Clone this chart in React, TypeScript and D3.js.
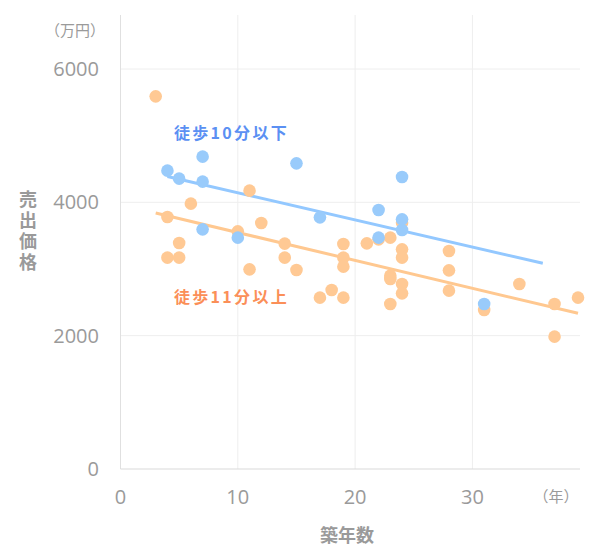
import React, { useEffect, useRef } from 'react';
import * as d3 from 'd3';

// 徒歩10分以下 : [築年数, 売出価格(万円)]
const nearPoints: [number, number][] = [
  [4, 4475], [5, 4355], [7, 4685], [7, 4310], [7, 3595], [10, 3470], [15, 4585],
  [17, 3775], [22, 3885], [22, 3470], [24, 4380], [24, 3745], [24, 3585], [31, 2475],
];

// 徒歩11分以上
const farPoints: [number, number][] = [
  [3, 5590], [4, 3780], [4, 3170], [5, 3390], [5, 3170], [6, 3980], [10, 3565],
  [11, 4175], [11, 2995], [12, 3690], [14, 3380], [14, 3170], [15, 2985], [17, 2570],
  [18, 2685], [19, 3375], [19, 3170], [19, 3035], [19, 2570], [21, 3385], [22, 3445],
  [23, 3470], [23, 2900], [23, 2850], [23, 2475], [24, 3695], [24, 3295], [24, 3170],
  [24, 2775], [24, 2635], [28, 3270], [28, 2980], [28, 2675], [31, 2385], [34, 2775],
  [37, 2475], [37, 1985], [39, 2570],
];

// trendline extents (years)
const nearTrendRange = [4, 36];
const farTrendRange = [3, 39];

const xTicks = [0, 10, 20, 30];
const yTicks = [0, 2000, 4000, 6000];

const nearLabel = '徒歩10分以下';
const farLabel = '徒歩11分以上';
const yTitle = '売出価格';
const xTitle = '築年数';

function fitLine(pts: [number, number][], range: number[]) {
  const mx = d3.mean(pts, d => d[0]) as number;
  const my = d3.mean(pts, d => d[1]) as number;
  const sxy = d3.sum(pts, d => (d[0] - mx) * (d[1] - my));
  const sxx = d3.sum(pts, d => (d[0] - mx) ** 2);
  const b = sxy / sxx;
  const a = my - b * mx;
  return range.map(x => [x, a + b * x] as [number, number]);
}

function App() {
  const svgRef = useRef<SVGSVGElement>(null);

  useEffect(() => {
    const svg = d3.select(svgRef.current);
    svg.selectAll('*').remove();

    const left = 120.5, right = 580, top = 15, bottom = 469;
    const font = "'Noto Sans CJK JP', 'Noto Sans', sans-serif";
    const numFont = "'Open Sans', 'Noto Sans', sans-serif";
    const gray = '#9a9a9a';

    const x = d3.scaleLinear().domain([0, 39.17]).range([left, right]);
    const y = d3.scaleLinear().domain([0, 6810]).range([bottom, top]);

    // grid
    svg.append('g')
      .selectAll('line')
      .data(yTicks.filter(t => t > 0))
      .enter()
      .append('line')
      .attr('x1', left).attr('x2', right)
      .attr('y1', d => y(d)).attr('y2', d => y(d))
      .attr('stroke', '#eeeeee');

    svg.append('g')
      .selectAll('line')
      .data(xTicks.filter(t => t > 0))
      .enter()
      .append('line')
      .attr('x1', d => x(d)).attr('x2', d => x(d))
      .attr('y1', top).attr('y2', bottom)
      .attr('stroke', '#eeeeee');

    // axis lines
    svg.append('line')
      .attr('x1', left).attr('x2', left).attr('y1', top).attr('y2', bottom)
      .attr('stroke', '#e0e0e0');
    svg.append('line')
      .attr('x1', left).attr('x2', right).attr('y1', bottom).attr('y2', bottom)
      .attr('stroke', '#d9d9d9');

    // tick labels
    svg.append('g')
      .selectAll('text')
      .data(yTicks)
      .enter()
      .append('text')
      .attr('x', 99)
      .attr('y', d => y(d))
      .attr('dy', '0.35em')
      .attr('text-anchor', 'end')
      .style('font-family', numFont)
      .style('font-size', '20px')
      .style('fill', gray)
      .text(d => d);

    svg.append('g')
      .selectAll('text')
      .data(xTicks)
      .enter()
      .append('text')
      .attr('x', d => x(d))
      .attr('y', 497)
      .attr('dy', '0.35em')
      .attr('text-anchor', 'middle')
      .style('font-family', numFont)
      .style('font-size', '20px')
      .style('fill', gray)
      .text(d => d);

    // units
    svg.append('text')
      .attr('x', 75).attr('y', 31).attr('dy', '0.35em')
      .attr('text-anchor', 'middle')
      .style('font-family', font).style('font-size', '15px').style('fill', gray)
      .text('（万円）');
    svg.append('text')
      .attr('x', 556).attr('y', 497).attr('dy', '0.35em')
      .attr('text-anchor', 'middle')
      .style('font-family', font).style('font-size', '15px').style('fill', gray)
      .text('（年）');

    // axis titles
    svg.append('text')
      .attr('x', 347).attr('y', 536).attr('dy', '0.35em')
      .attr('text-anchor', 'middle')
      .style('font-family', font).style('font-size', '18px')
      .style('font-weight', 'bold').style('fill', gray)
      .text(xTitle);

    svg.append('text')
      .attr('x', 28)
      .attr('y', 232)
      .attr('text-anchor', 'middle')
      .style('writing-mode', 'vertical-rl')
      .style('font-family', font).style('font-size', '18px')
      .style('letter-spacing', '3px')
      .style('font-weight', 'bold').style('fill', gray)
      .text(yTitle);

    // trendlines
    const line = d3.line<[number, number]>()
      .x(d => x(d[0]))
      .y(d => y(d[1]));

    svg.append('path')
      .datum(fitLine(farPoints, farTrendRange))
      .attr('fill', 'none')
      .attr('stroke', '#ffc890')
      .attr('stroke-width', 3)
      .attr('d', line);

    svg.append('path')
      .datum(fitLine(nearPoints, nearTrendRange))
      .attr('fill', 'none')
      .attr('stroke', '#93c8ff')
      .attr('stroke-width', 3)
      .attr('d', line);

    // points
    svg.append('g')
      .selectAll('circle')
      .data(farPoints)
      .enter()
      .append('circle')
      .attr('cx', d => x(d[0]))
      .attr('cy', d => y(d[1]))
      .attr('r', 6.3)
      .attr('fill', '#ffc994');

    svg.append('g')
      .selectAll('circle')
      .data(nearPoints)
      .enter()
      .append('circle')
      .attr('cx', d => x(d[0]))
      .attr('cy', d => y(d[1]))
      .attr('r', 6.3)
      .attr('fill', '#99cbfb');

    // series labels
    svg.append('text')
      .attr('x', 174).attr('y', 133).attr('dy', '0.35em')
      .attr('text-anchor', 'start')
      .style('font-family', font).style('font-size', '16px')
      .style('letter-spacing', '2.3px')
      .style('font-weight', 'bold').style('fill', '#5b90f3')
      .text(nearLabel);

    svg.append('text')
      .attr('x', 174).attr('y', 297).attr('dy', '0.35em')
      .attr('text-anchor', 'start')
      .style('font-family', font).style('font-size', '16px')
      .style('letter-spacing', '2.3px')
      .style('font-weight', 'bold').style('fill', '#fb8f58')
      .text(farLabel);
  }, []);

  return (
    <div style={{ position: 'absolute', left: 0, top: 0 }}>
      <svg ref={svgRef} width={600} height={559} style={{ display: 'block', background: '#fff' }}></svg>
    </div>
  );
}

export default App;
